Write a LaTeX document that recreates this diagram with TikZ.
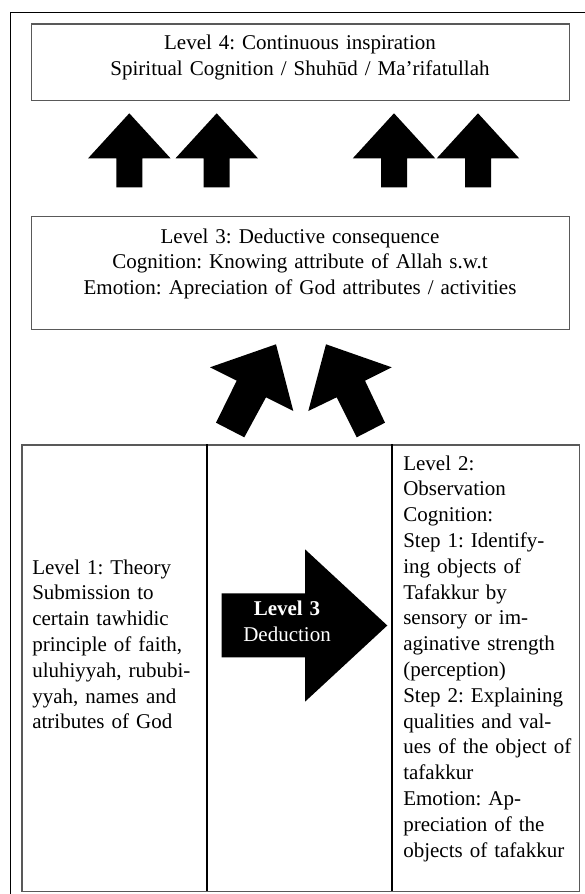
\documentclass[tikz,border=0pt]{standalone}
\usepackage{fontspec}
\setmainfont{Liberation Serif}
\newcommand\myfs{\fontsize{21}{25.8}\selectfont}
\frenchspacing
\begin{document}
\begin{tikzpicture}[x=1pt,y=-1pt,
  box/.style={draw=black!65, line width=1.3pt, fill=white, inner sep=0pt, anchor=north west},
  txt/.style={font=\myfs, inner sep=0pt, outer sep=0pt},
  blk/.style={fill=black, draw=none},
  cell/.style={draw=black!65, line width=1.5pt, inner sep=0pt, anchor=north west},
  divider/.style={draw=black, line width=2.2pt}]
\useasboundingbox (0,0) rectangle (585,894);
\fill[white] (0,0) rectangle (585,894);
% outer frame
\draw[line width=1pt] (590,12.3) -- (10,12.3) -- (10,900);
% Level 4 box
\node[box, minimum width=538pt, minimum height=76.7pt] (l4) at (31,23.3) {};
\node[txt, text width=538pt, align=center, anchor=base] (l4t) at (300,49.5)
  {Level 4: Continuous inspiration\\Spiritual Cognition / Shuhūd / Ma’rifatullah};
% up arrows
\foreach \c [count=\i] in {129.3,216.7,394,478}{
  \fill[blk] (\c,113.3) -- ({\c+41.2},158.3) -- ({\c+13},158.3) -- ({\c+13},187.3)
     -- ({\c-13},187.3) -- ({\c-13},158.3) -- ({\c-41.2},158.3) -- cycle;
}
% Level 3 box
\node[box, minimum width=538pt, minimum height=113pt] (l3) at (31,216) {};
\node[txt, text width=538pt, align=center, anchor=base] (l3t) at (300,243)
  {Level 3: Deductive consequence\\Cognition: Knowing attribute of Allah s.w.t\\Emotion: Apreciation of God attributes / activities};
% tilted arrows
\fill[blk] (276,344.3) -- (210,367.3) -- (236.7,380.7) -- (216,422.7) -- (244.3,437.3)
  -- (266,397.3) -- (293.3,411) -- cycle;
\fill[blk] (326,344.3) -- (391.7,367.3) -- (365,380.7) -- (385,422.7) -- (356.7,437.3)
  -- (336.7,397.3) -- (308.3,411) -- cycle;
% table
\node[cell, minimum width=557.4pt, minimum height=446.4pt] (tab) at (21.3,444.3) {};
\draw[divider] (206.7,444.3) -- (206.7,890.7);
\draw[divider] (392.3,444.3) -- (392.3,890.7);
\node[txt, text width=170pt, align=left, anchor=base west] (t1) at (32.3,574)
  {Level 1: Theory\\Submission to\\certain tawhidic\\principle of faith,\\uluhiyyah, rububi-\\yyah, names and\\atributes of God};
\node[txt, text width=175pt, align=left, anchor=base west] (t2) at (403.3,470)
  {Level 2:\\Observation\\Cognition:\\Step 1: Identify-\\ing objects of\\Tafakkur by\\sensory or im-\\aginative strength\\(perception)\\Step 2: Explaining\\qualities and val-\\ues of the object of\\tafakkur\\Emotion: Ap-\\preciation of the\\objects of tafakkur};
% deduction arrow
\fill[blk] (221.7,593.3) -- (305,593.3) -- (305,549.3) -- (387.3,625.5) -- (305,701.7)
  -- (305,657.3) -- (221.7,657.3) -- cycle;
\node[txt, text width=110pt, align=center, anchor=base, text=white] (ded) at (287,615)
  {\textbf{Level 3}\\[0.9pt]Deduction};
\end{tikzpicture}
\end{document}
